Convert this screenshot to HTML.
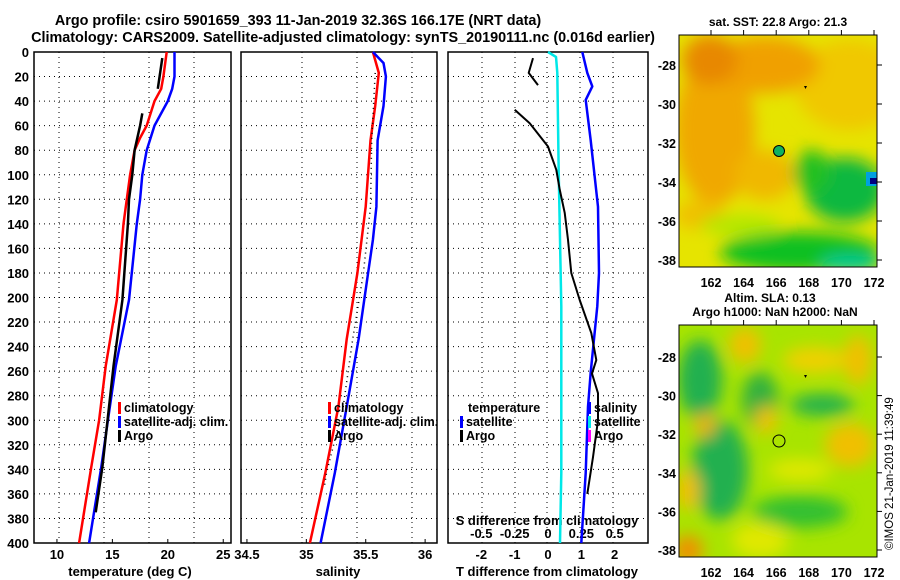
<!DOCTYPE html>
<html><head><meta charset="utf-8"><style>
html,body{margin:0;padding:0;background:#fff;}
svg{display:block;font-family:"Liberation Sans",sans-serif;font-weight:bold;}
</style></head><body>
<svg id="chart" width="900" height="580" viewBox="0 0 900 580" xmlns="http://www.w3.org/2000/svg">
<defs>
<filter id="blur1" x="-50%" y="-50%" width="200%" height="200%"><feGaussianBlur stdDeviation="8"/></filter>
<clipPath id="clipTop"><rect x="679" y="35" width="198" height="232"/></clipPath>
<clipPath id="clipBot"><rect x="679" y="325" width="198" height="232"/></clipPath>
</defs>
<text x="298" y="25" text-anchor="middle" font-size="14.4">Argo profile: csiro 5901659_393 11-Jan-2019 32.36S 166.17E (NRT data)</text>
<text x="343" y="42" text-anchor="middle" font-size="14.4">Climatology: CARS2009. Satellite-adjusted climatology: synTS_20190111.nc (0.016d earlier)</text>

<g id="mapTop" clip-path="url(#clipTop)">
<rect x="679" y="35" width="198" height="232" fill="#e6e400"/>
<g filter="url(#blur1)">
<ellipse cx="850" cy="85" rx="55" ry="45" fill="#f0c800"/>
<ellipse cx="715" cy="130" rx="40" ry="75" fill="#f0a800"/>
<ellipse cx="765" cy="65" rx="55" ry="28" fill="#f0a000"/>
<ellipse cx="710" cy="60" rx="28" ry="25" fill="#e88800"/>
<ellipse cx="765" cy="175" rx="30" ry="25" fill="#f0b800"/>
<ellipse cx="700" cy="215" rx="25" ry="15" fill="#f0c000"/>
<ellipse cx="845" cy="190" rx="40" ry="32" fill="#10b840"/>
<ellipse cx="812" cy="172" rx="18" ry="22" fill="#20c020"/>
<ellipse cx="800" cy="252" rx="80" ry="20" fill="#10c020"/>
<ellipse cx="740" cy="225" rx="40" ry="10" fill="#b0e800"/>
<ellipse cx="850" cy="264" rx="30" ry="8" fill="#00c8a0"/>
</g>
<rect x="866" y="172" width="11" height="14" fill="#00a0e0"/>
<rect x="870" y="178" width="7" height="6" fill="#000080"/>
<circle cx="779" cy="151" r="5.5" fill="#10b060" stroke="#000" stroke-width="1"/>
<path d="M804 86 l3 0 l-1.5 3z" fill="#000"/>
</g>
<rect x="679" y="35" width="198" height="232" fill="none" stroke="#000" stroke-width="1"/>
<text x="778" y="26" text-anchor="middle" font-size="12">sat. SST: 22.8 Argo: 21.3</text>

<g id="mapBot" clip-path="url(#clipBot)">
<rect x="679" y="325" width="198" height="232" fill="#a8e400"/>
<g filter="url(#blur1)">
<ellipse cx="700" cy="380" rx="22" ry="40" fill="#20b050"/>
<ellipse cx="720" cy="470" rx="28" ry="50" fill="#20b050"/>
<ellipse cx="760" cy="400" rx="18" ry="28" fill="#30b040"/>
<ellipse cx="850" cy="445" rx="25" ry="22" fill="#f0c000"/>
<ellipse cx="745" cy="345" rx="16" ry="18" fill="#f0c000"/>
<ellipse cx="815" cy="360" rx="32" ry="13" fill="#f0d000"/>
<ellipse cx="858" cy="360" rx="14" ry="25" fill="#f0c000"/>
<ellipse cx="766" cy="420" rx="11" ry="14" fill="#f0c000"/>
<ellipse cx="705" cy="425" rx="10" ry="12" fill="#f0b000"/>
<ellipse cx="688" cy="490" rx="12" ry="20" fill="#f0c000"/>
<ellipse cx="688" cy="550" rx="15" ry="15" fill="#f09000"/>
<ellipse cx="822" cy="405" rx="32" ry="11" fill="#20b050"/>
<ellipse cx="800" cy="512" rx="48" ry="16" fill="#30c030"/>
<ellipse cx="760" cy="540" rx="28" ry="18" fill="#e0e800"/>
<ellipse cx="800" cy="470" rx="32" ry="11" fill="#e0e800"/>
</g>
<circle cx="779" cy="441" r="6" fill="none" stroke="#000" stroke-width="1"/>
<path d="M804 375 l3 0 l-1.5 3z" fill="#000"/>
</g>
<rect x="679" y="325" width="198" height="232" fill="none" stroke="#000" stroke-width="1"/>
<text x="770" y="302" text-anchor="middle" font-size="12">Altim. SLA: 0.13</text>
<text x="775" y="316" text-anchor="middle" font-size="12">Argo h1000: NaN h2000: NaN</text>
<text transform="translate(893,550) rotate(-90)" font-size="11.5" font-weight="normal">©IMOS 21-Jan-2019 11:39:49</text>
<g id="plots"></g>
</svg>
<script>
// ---- data ----
const depthTicks = [0,20,40,60,80,100,120,140,160,180,200,220,240,260,280,300,320,340,360,380,400];
const tempTicks = [10,15,20,25];
const salTicks = [34.5,35,35.5,36];
const tdiffTicks = [-2,-1,0,1,2];
const sdiffTicks = [-0.5,-0.25,0,0.25,0.5];
const sdiffTickLabels = ["-0.5","-0.25","0","0.25","0.5"];

const depthTClim = [0,20,30,40,60,70,80,100,120,140,202,256,300,338,400];
const tempClim   = [19.9,19.6,19.4,18.8,18.1,17.5,17.0,16.6,16.3,16.0,15.4,14.4,13.8,13.1,12.0];
const depthTSat  = [0,20,30,40,60,80,100,120,140,202,256,300,338,400];
const tempSat    = [20.6,20.6,20.4,20.0,18.8,18.1,17.7,17.5,17.2,16.5,15.3,14.6,14.0,12.9];
const depthTArgo1 = [5,30];
const tempArgo1   = [19.5,19.1];
const depthTArgo2 = [50,60,80,100,120,140,202,256,338,375];
const tempArgo2   = [17.7,17.5,17.0,16.8,16.5,16.4,15.9,15.1,14.1,13.5];

const depthSClim = [0,17,44,72,126,180,234,289,343,400];
const salClim    = [35.56,35.61,35.58,35.54,35.50,35.43,35.34,35.27,35.16,35.03];
const depthSSat  = [0,9,20,44,72,126,153,180,234,289,343,400];
const salSat     = [35.56,35.65,35.67,35.65,35.60,35.59,35.56,35.52,35.44,35.34,35.24,35.12];
const depthSArgo = [17,72,126,180,234,289,343,355];
const salArgo    = [35.58,35.55,35.54,35.48,35.39,35.31,35.17,35.15];

const depthSDiff = [0,4,17,98,207,343,400];
const salDiffSat = [0,0.06,0.07,0.08,0.10,0.10,0.09];
const depthTDiff = [0,17,28,39,72,126,180,207,234,261,289,343,400];
const tDiffSat   = [1.03,1.18,1.33,1.13,1.28,1.50,1.53,1.48,1.38,1.28,1.20,1.13,1.0];
const depthTDiffArgo1 = [5,17,27];
const tDiffArgo1 = [-0.45,-0.58,-0.30];
const depthTDiffArgo2 = [47,58,77,96,112,131,153,180,202,229,251,262,278,300,330,360];
const tDiffArgo2 = [-1.0,-0.55,0,0.25,0.35,0.5,0.6,0.7,0.95,1.3,1.45,1.32,1.5,1.5,1.35,1.18];

const latTicks = [-28,-30,-32,-34,-36,-38];
const lonTicks = [162,164,166,168,170,172];

// ---- axes ----
const NS = "http://www.w3.org/2000/svg";
const root = document.getElementById('plots');
const Y0 = 52, Y1 = 543;
const yD = d => Y0 + d / 400 * (Y1 - Y0);
const P1 = {x0:34, x1:231, v0:7.93, v1:25.7};
const P2 = {x0:241, x1:437, v0:34.45, v1:36.1};
const P3 = {x0:448, x1:648, v0:-3, v1:3};
const sx = (p, v) => p.x0 + (v - p.v0) / (p.v1 - p.v0) * (p.x1 - p.x0);

function mk(tag, attrs, parent) {
  const e = document.createElementNS(NS, tag);
  for (const k in attrs) e.setAttribute(k, attrs[k]);
  (parent || root).appendChild(e);
  return e;
}
function txt(x, y, s, anchor, size) {
  const t = mk('text', {x:x, y:y, 'text-anchor':anchor||'middle', 'font-size':size||12});
  t.textContent = s;
  return t;
}
function line(p, depths, vals, color, w, dash, name) {
  const pts = depths.map((d, i) => sx(p, vals[i]).toFixed(1) + ',' + yD(d).toFixed(1)).join(' ');
  const el = mk('polyline', {points:pts, fill:'none', stroke:color, 'stroke-width':w, 'stroke-linejoin':'round'});
  if (dash) el.setAttribute('stroke-dasharray', dash);
  
  
}

const vgrid = {p1:[59,104,149,194], p2:[302,357,412], p3:[482,515,547,580,613]};
[[P1,vgrid.p1,'temperature-panel'],[P2,vgrid.p2,'salinity-panel'],[P3,vgrid.p3,'difference-panel']].forEach(([p,gx,nm]) => {
  depthTicks.forEach(d => {
    if (d === 0 || d === 400) return;
    const g = mk('line', {x1:p.x0, x2:p.x1, y1:yD(d), y2:yD(d), stroke:'#000', 'stroke-width':1, 'stroke-dasharray':'1 4'});
    
    
  });
  gx.forEach(x => {
    const g = mk('line', {x1:x, x2:x, y1:Y0, y2:Y1, stroke:'#000', 'stroke-width':1, 'stroke-dasharray':'1 4'});
    
    
  });
  const f = mk('rect', {x:p.x0, y:Y0, width:p.x1-p.x0, height:Y1-Y0, fill:'none', stroke:'#000', 'stroke-width':1.5});
  
  
});

depthTicks.forEach(d => {
  const t = txt(29, yD(d) + 5, String(d), 'end', 13);
  
  
});
tempTicks.forEach(v => {
  const t = txt(sx(P1, v), 559, String(v), 'middle', 13);
  
  
  mk('line', {x1:sx(P1,v), x2:sx(P1,v), y1:Y1, y2:Y1-4, stroke:'#000'});
});
salTicks.forEach(v => {
  const t = txt(sx(P2, v), 559, String(v), 'middle', 13);
  
  
  mk('line', {x1:sx(P2,v), x2:sx(P2,v), y1:Y1, y2:Y1-4, stroke:'#000'});
});
tdiffTicks.forEach(v => {
  const t = txt(sx(P3, v), 559, String(v), 'middle', 13);
  
  
});
sdiffTicks.forEach((v, i) => {
  const t = txt(sx(P3, v * 4), 538, sdiffTickLabels[i], 'middle', 13);
  
  
});
let t;
t = txt(130, 576, 'temperature (deg C)', 'middle', 13);


t = txt(338, 576, 'salinity', 'middle', 13);


t = txt(547, 576, 'T difference from climatology', 'middle', 13);


t = txt(547, 525, 'S difference from climatology', 'middle', 13);



// series
line(P1, depthTClim, tempClim, '#f00', 2.5, null, 'temperature-climatology-line');
line(P1, depthTSat, tempSat, '#00f', 2.5, null, 'temperature-satellite-line');
line(P1, depthTArgo1, tempArgo1, '#000', 2.5, null, 'temperature-argo-line-upper');
line(P1, depthTArgo2, tempArgo2, '#000', 2.5, null, 'temperature-argo-line');

line(P2, depthSClim, salClim, '#f00', 2.5, null, 'salinity-climatology-line');
line(P2, depthSSat, salSat, '#00f', 2.5, null, 'salinity-satellite-line');
line(P2, depthSArgo, salArgo, '#000', 1.5, '1 4', 'salinity-argo-line');

line(P3, depthSDiff, salDiffSat.map(v => v * 4), '#00e8e8', 2.5, null, 'sdiff-satellite-line');
line(P3, depthTDiff, tDiffSat, '#00f', 2.5, null, 'tdiff-satellite-line');
line(P3, depthTDiffArgo1, tDiffArgo1, '#000', 2, null, 'tdiff-argo-line-upper');
line(P3, depthTDiffArgo2, tDiffArgo2, '#000', 2, null, 'tdiff-argo-line');

// legends
function legendEntry(x, y, color, label, name) {
  if (color) mk('rect', {x:x, y:y-10, width:3, height:12, fill:color});
  const tt = txt(x + 6, y, label, 'start', 12.5);
  
  
}
legendEntry(118, 412, '#f00', 'climatology', 'legend-entry-climatology');
legendEntry(118, 426, '#00f', 'satellite-adj. clim.', 'legend-entry-satellite');
legendEntry(118, 440, '#000', 'Argo', 'legend-entry-argo');
legendEntry(328, 412, '#f00', 'climatology', 'legend-entry-climatology-2');
legendEntry(328, 426, '#00f', 'satellite-adj. clim.', 'legend-entry-satellite-2');
legendEntry(328, 440, '#000', 'Argo', 'legend-entry-argo-2');
legendEntry(462, 412, null, 'temperature', 'legend-title-temperature');
legendEntry(460, 426, '#00f', 'satellite', 'legend-entry-t-satellite');
legendEntry(460, 440, '#000', 'Argo', 'legend-entry-t-argo');
legendEntry(588, 412, '#00f', 'salinity', 'legend-entry-salinity');
legendEntry(588, 426, '#00e8e8', 'satellite', 'legend-entry-s-satellite');
legendEntry(588, 440, '#f0f', 'Argo', 'legend-entry-s-argo');

// map axes
const latY = (lat, y28, y38) => y28 + (lat + 28) / -10 * (y38 - y28);
const lonX = lon => 711 + (lon - 162) / 10 * 163;
[[65, 260, 287, 35, 267], [357, 550, 577, 325, 557]].forEach(([y28, y38, ly, top, bot]) => {
  latTicks.forEach(lat => {
    const y = latY(lat, y28, y38);
    const tl = txt(676, y + 5, String(lat), 'end', 12.5);
    
    
    mk('line', {x1:877, x2:882, y1:y, y2:y, stroke:'#000'});
  });
  lonTicks.forEach(lon => {
    const x = lonX(lon);
    const tl = txt(x, ly, String(lon), 'middle', 12.5);
    
    
    mk('line', {x1:x, x2:x, y1:top, y2:top-5, stroke:'#000'});
  });
});
</script>
</body></html>
